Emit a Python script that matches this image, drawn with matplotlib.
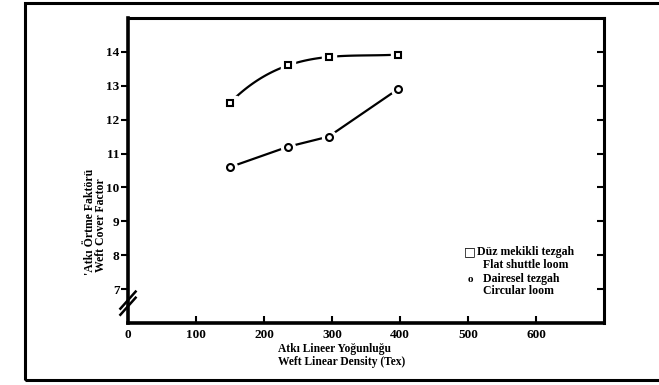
import matplotlib.pyplot as plt
import numpy as np

tex = [150, 235, 295, 397]
flat_shuttle = [12.5, 13.6, 13.85, 13.92]
circular = [10.6, 11.2, 11.5, 12.9]

x_ticks = [0, 100, 200, 300, 400, 500, 600]
y_ticks = [7, 8, 9, 10, 11, 12, 13, 14]

plt.rcParams['font.family'] = ['Liberation Serif', 'DejaVu Serif']
plt.rcParams['font.weight'] = 'bold'

fig = plt.figure(figsize=(6.59, 3.85), dpi=100)
ax = fig.add_axes([128 / 659, 1 - 323 / 385, 476 / 659, 305 / 385])

# outer frame of the scanned figure
frame = plt.Rectangle((25 / 659, 1 - 380 / 385), 1.0, 377 / 385,
                      transform=fig.transFigure, fill=False, lw=2.2,
                      color='black', clip_on=False)
fig.patches.append(frame)

# smooth curve through the shuttle loom points
coef = np.polyfit(tex, flat_shuttle, 3)
xs = np.linspace(tex[0], tex[-1], 100)
ax.plot(xs, np.polyval(coef, xs), color='black', lw=1.6, zorder=2)
ax.plot(tex, circular, color='black', lw=1.6, zorder=2)

# white halos leave small gaps around the markers
ax.plot(tex, flat_shuttle, 's', ms=10, color='white', zorder=3)
ax.plot(tex, circular, 'o', ms=10, color='white', zorder=3)
ax.plot(tex, flat_shuttle, 's', ms=5, mfc='white', mec='black', mew=1.5, zorder=4)
ax.plot(tex, circular, 'o', ms=5, mfc='white', mec='black', mew=1.5, zorder=4)

ax.set_xlim(0, 700)
ax.set_ylim(6, 15)
ax.set_xticks(x_ticks)
ax.set_yticks(y_ticks)
ax.set_xticklabels(x_ticks, fontsize=9.5, fontweight='bold')
ax.set_yticklabels(y_ticks, fontsize=9.5, fontweight='bold')
ax.tick_params(axis='x', direction='in', length=5, width=1.5, pad=4)
ax.tick_params(axis='y', direction='out', length=5, width=1.5, pad=1)
for s in ax.spines.values():
    s.set_linewidth(2.2)
ax.spines['bottom'].set_linewidth(2.6)
ax.spines['left'].set_linewidth(2.6)

# inward ticks on the right spine
ax2 = ax.twinx()
ax2.set_ylim(6, 15)
ax2.set_yticks(y_ticks)
ax2.set_yticklabels([])
ax2.tick_params(axis='y', direction='in', length=5, width=1.5)
for s in ax2.spines.values():
    s.set_visible(False)

# axis break on the y axis
for dy in (0.055, 0.075):
    ax.plot([-0.016, 0.016], [dy - 0.028, dy + 0.028], transform=ax.transAxes,
            color='black', lw=1.8, clip_on=False, zorder=5)

fig.text(90 / 659, 1 - 222 / 385, "'Atkı Örtme Faktörü", rotation=90,
         ha='center', va='center', fontsize=8.5, fontweight='bold')
fig.text(101 / 659, 1 - 225 / 385, "Weft Cover Factor", rotation=90,
         ha='center', va='center', fontsize=8.5, fontweight='bold')

fig.text(278 / 659, 1 - 349 / 385, "Atkı Lineer Yoğunluğu",
         ha='left', va='center', fontsize=8.3, fontweight='bold')
fig.text(278 / 659, 1 - 362 / 385, "Weft Linear Density (Tex)",
         ha='left', va='center', fontsize=8.3, fontweight='bold')

# legend drawn as in the scan
fig.text(470 / 659, 1 - 252 / 385, "\u25a1", ha='center', va='center',
         fontsize=9, family=['DejaVu Sans'])
fig.text(477 / 659, 1 - 252 / 385, "Düz mekikli tezgah", ha='left',
         va='center', fontsize=8.5, fontweight='bold')
fig.text(483 / 659, 1 - 265 / 385, "Flat shuttle loom", ha='left',
         va='center', fontsize=8.5, fontweight='bold')
fig.text(470 / 659, 1 - 279 / 385, "o", ha='center', va='center',
         fontsize=8, fontweight='bold')
fig.text(483 / 659, 1 - 279 / 385, "Dairesel tezgah", ha='left',
         va='center', fontsize=8.5, fontweight='bold')
fig.text(483 / 659, 1 - 291 / 385, "Circular loom", ha='left',
         va='center', fontsize=8.5, fontweight='bold')

plt.savefig("out.png", dpi=100)
